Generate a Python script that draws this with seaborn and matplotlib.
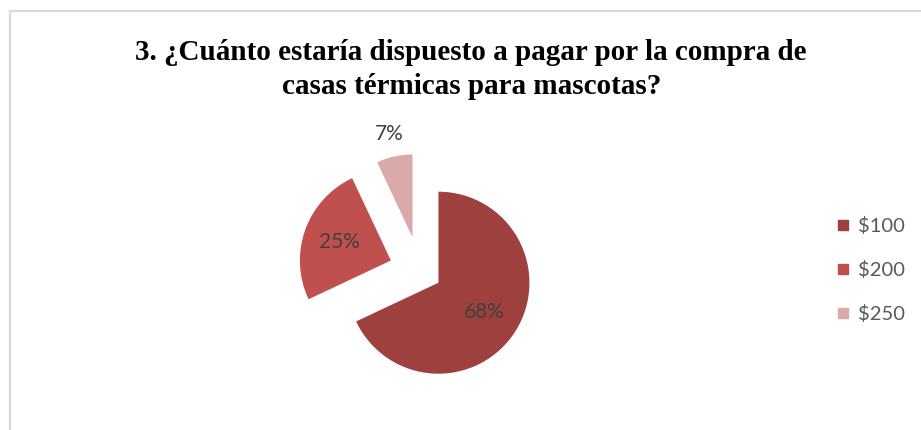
import matplotlib
matplotlib.use("Agg")
import matplotlib.pyplot as plt
from matplotlib.patches import Rectangle
from matplotlib.lines import Line2D
import numpy as np
import seaborn as sns

# Survey answers: price willing to pay for thermal pet houses
categories = ["$100", "$200", "$250"]
shares = [68, 25, 7]
colors = ["#9E413E", "#C0504D", "#D9AAA9"]
explode = [0.24, 0.34, 0.38]
title_lines = [
    "3. ¿Cuánto estaría dispuesto a pagar por la compra de",
    "casas térmicas para mascotas?",
]

sns.set_theme(style="white")
plt.rcParams["font.family"] = ["Lato", "DejaVu Sans"]

W, H = 921, 430
fig = plt.figure(figsize=(W / 100, H / 100), dpi=100)
fig.patch.set_facecolor("white")

# chart frame (light grey border)
fig.patches.append(Rectangle((10 / W, -0.2), 1.2, 1.2 - 11 / H,
                             transform=fig.transFigure, fill=False,
                             edgecolor="#D9D9D9", linewidth=1.6))

# title
fig.text(471 / W, 1 - 52 / H, title_lines[0], ha="center", va="center",
         fontsize=21, fontweight="bold", family="Liberation Serif", color="black")
fig.text(472 / W, 1 - 86 / H, title_lines[1], ha="center", va="center",
         fontsize=21, fontweight="bold", family="Liberation Serif", color="black")

# pie axes: centre and radius laid out in pixels
cx, cy, r = 420, 271, 91
left, right, top, bottom = 220, 620, 110, 420
ax = fig.add_axes([left / W, (H - bottom) / H, (right - left) / W, (bottom - top) / H])
wedges, texts, autotexts = ax.pie(
    shares, colors=colors, explode=explode, startangle=90, counterclock=False,
    radius=1, autopct=lambda p: f"{p:.0f}%", pctdistance=0.6,
    textprops=dict(color="#404040", fontsize=15),
    wedgeprops=dict(linewidth=0),
)
ax.set_xlim((left - cx) / r, (right - cx) / r)
ax.set_ylim(((H - bottom) - (H - cy)) / r, ((H - top) - (H - cy)) / r)
ax.set_aspect("auto")
ax.axis("off")

# the smallest slice is drawn slightly shorter with its label outside
small = wedges[2]
small.set_radius(0.91)
mid = np.deg2rad((small.theta1 + small.theta2) / 2)
c = small.center
autotexts[2].set_position((c[0] + 1.16 * np.cos(mid), c[1] + 1.16 * np.sin(mid)))

# legend
handles = [Line2D([], [], marker="s", linestyle="", color=col, markersize=7.2)
           for col in colors]
labels = [cat.replace("$", r"\$") for cat in categories]
fig.legend(handles, labels, loc="center left", bbox_to_anchor=(826 / W, 1 - 270 / H),
           frameon=False, fontsize=14.5, labelcolor="#595959", handletextpad=0.3,
           labelspacing=1.3, handlelength=0.9, borderaxespad=0)

fig.savefig("out.png", dpi=100, facecolor="white")
